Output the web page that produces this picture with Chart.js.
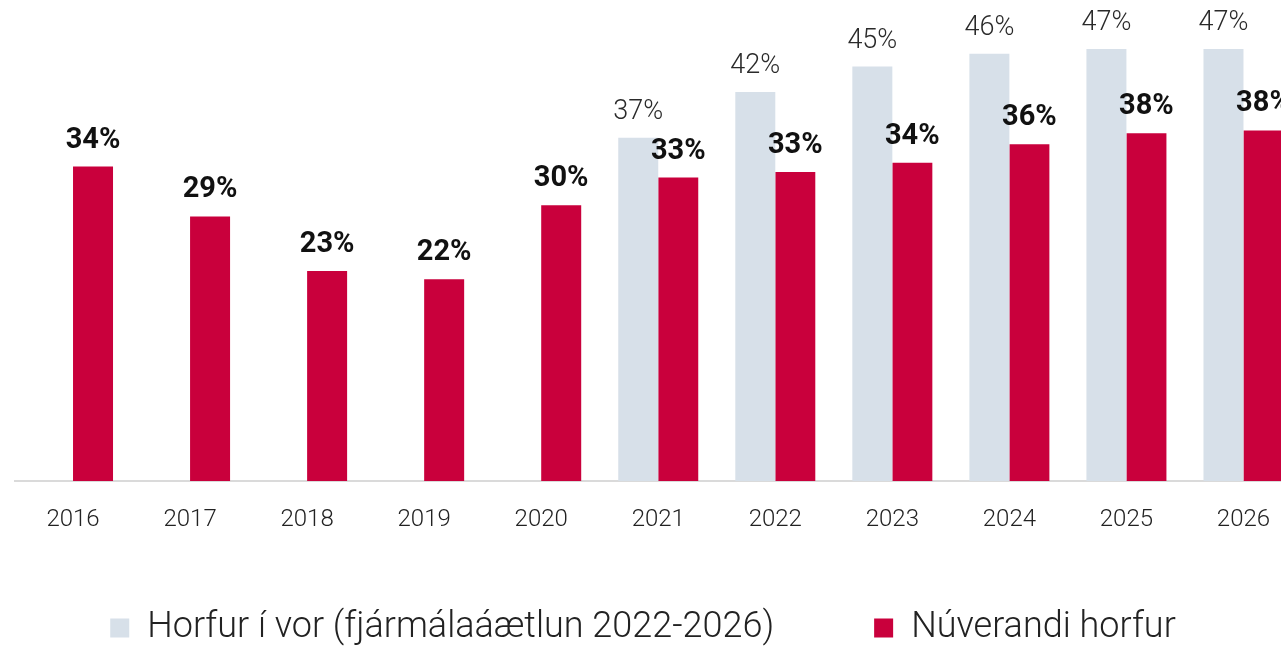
<!DOCTYPE html>
<html>
<head>
<meta charset="utf-8">
<script src="https://cdn.jsdelivr.net/npm/chart.js@4/dist/chart.umd.min.js"></script>
<style>
  html, body { margin: 0; padding: 0; background: #fff; overflow: hidden; width: 1281px; height: 646px; }
  #wrap { position: absolute; left: 0; top: 0; width: 1302px; height: 687px; }
</style>
</head>
<body>
<div id="wrap"><canvas id="c" width="1302" height="687"></canvas></div>
<script>
const categories = ['2016','2017','2018','2019','2020','2021','2022','2023','2024','2025','2026'];
const springOutlook = [null, null, null, null, null, 37.1, 42.05, 44.8, 46.2, 46.7, 46.7];
const currentOutlook = [34.0, 28.6, 22.7, 21.8, 29.8, 32.8, 33.4, 34.4, 36.4, 37.6, 37.9];
const seriesNames = ['Horfur í vor (fjármálaáætlun 2022-2026)', 'Núverandi horfur'];

const GREY = '#d7e0e9';
const RED = '#c9003c';
const LEGEND_PAD = 100;
const LEGEND_FONT = 36;

const valueLabels = {
  id: 'valueLabels',
  afterDatasetsDraw(chart) {
    const ctx = chart.ctx;
    ctx.save();
    ctx.textAlign = 'center';
    ctx.textBaseline = 'alphabetic';
    chart.data.datasets.forEach((ds, di) => {
      const meta = chart.getDatasetMeta(di);
      if (di === 0) {
        ctx.font = '300 27px Roboto';
        ctx.fillStyle = '#2a2a2a';
      } else {
        ctx.font = '700 29px Roboto';
        ctx.fillStyle = '#111111';
      }
      meta.data.forEach((el, i) => {
        const v = ds.data[i];
        if (v === null || v === undefined) return;
        ctx.fillText(Math.round(v) + '%', el.x, el.y - 19);
      });
    });
    ctx.restore();
  }
};

const legendPlace = {
  id: 'legendPlace',
  afterLayout(chart) {
    const l = chart.legend;
    if (!l) return;
    const half = (l.right - l.left) / 2;
    const cx = 643;
    l.left = cx - half;
    l.right = cx + half;
    const cy = 628;
    const cur = l.top + LEGEND_PAD + LEGEND_FONT / 2;
    const d = cy - cur;
    l.top += d;
    l.bottom += d;
  }
};

new Chart(document.getElementById('c'), {
  type: 'bar',
  data: {
    labels: categories,
    datasets: [
      { label: seriesNames[0], data: springOutlook, backgroundColor: GREY, borderWidth: 0 },
      { label: seriesNames[1], data: currentOutlook, backgroundColor: RED, borderWidth: 0 }
    ]
  },
  options: {
    responsive: false,
    devicePixelRatio: 1,
    animation: false,
    categoryPercentage: 0.6835,
    barPercentage: 1,
    layout: { padding: { left: 14.5, right: 0, top: 0, bottom: 0 } },
    scales: {
      x: {
        grid: { display: false },
        border: { display: true, color: '#dadada', width: 2 },
        ticks: { font: { family: 'Roboto', size: 24, weight: '300' }, color: '#222', padding: 17, maxRotation: 0, autoSkip: false },
        afterFit(scale) { scale.height = 60; }
      },
      y: {
        display: false,
        min: 0,
        max: 52
      }
    },
    plugins: {
      tooltip: { enabled: false },
      legend: {
        position: 'bottom',
        labels: {
          boxWidth: 19,
          boxHeight: 19,
          padding: LEGEND_PAD,
          color: '#222',
          font: { family: 'Roboto', size: LEGEND_FONT, weight: '300' }
        }
      }
    }
  },
  plugins: [valueLabels, legendPlace]
});
</script>
</body>
</html>
